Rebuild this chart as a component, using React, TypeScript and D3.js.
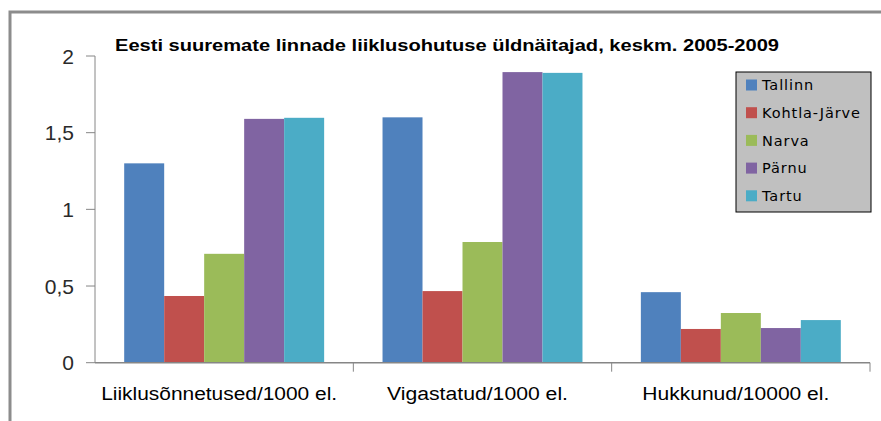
import React from 'react'
import * as d3 from 'd3'

const width = 881
const height = 421

const categories = ['Liiklusõnnetused/1000 el.', 'Vigastatud/1000 el.', 'Hukkunud/10000 el.']
const labelWidths = [236, 181, 187]
const cities = ['Tallinn', 'Kohtla-Järve', 'Narva', 'Pärnu', 'Tartu']
const colors = ['#4f81bd', '#c0504d', '#9bbb59', '#8064a2', '#4bacc6']
const tallinn = [1.3, 1.6, 0.46]
const kohtlaJarve = [0.435, 0.467, 0.22]
const narva = [0.71, 0.787, 0.324]
const parnu = [1.59, 1.895, 0.226]
const tartu = [1.597, 1.89, 0.278]
const yTicks = [0, 0.5, 1, 1.5, 2]
const tickLabels = ['0', '0,5', '1', '1,5', '2']
const title = 'Eesti suuremate linnade liiklusohutuse üldnäitajad, keskm. 2005-2009'

const series = [tallinn, kohtlaJarve, narva, parnu, tartu]

const x0 = d3.scaleBand<string>().domain(categories).range([95, 870])
const x1 = d3.scaleBand<string>().domain(cities).range([0, x0.bandwidth()]).paddingOuter(0.73).paddingInner(0)
const y = d3.scaleLinear().domain([0, 2]).range([362.7, 56])

function App() {
  const font = '"Liberation Sans", "Open Sans", sans-serif'
  return (
    <svg width={width} height={height} style={{ position: 'absolute', left: 0, top: 0 }}>
      <rect x={0} y={0} width={width} height={height} fill="#fff" />
      {/* outer frame, cropped at right and bottom */}
      <path d={`M10,${height} V12 H${width}`} fill="none" stroke="#8c8c8c" strokeWidth={3} />

      <text x={447} y={51} textAnchor="middle" fontFamily={font} fontWeight="bold" fontSize={16}
        textLength={664} lengthAdjust="spacingAndGlyphs" fill="#000">{title}</text>

      {/* y axis */}
      <line x1={95} x2={95} y1={y(2)} y2={y(0)} stroke="#868686" />
      {yTicks.map((t, i) => (
        <g key={t}>
          <line x1={86} x2={95} y1={y(t)} y2={y(t)} stroke="#868686" />
          <text x={74} y={y(t)} dy="0.36em" textAnchor="end" fontFamily={font} fontSize={21} fill="#2a2a2a">{tickLabels[i]}</text>
        </g>
      ))}

      {/* bars */}
      {categories.map((c, ci) => (
        <g key={c} transform={`translate(${x0(c)},0)`}>
          {cities.map((city, si) => (
            <rect key={city} x={x1(city)} width={x1.bandwidth()} y={y(series[si][ci])}
              height={y(0) - y(series[si][ci])} fill={colors[si]} />
          ))}
        </g>
      ))}

      {/* x axis */}
      <line x1={95} x2={870} y1={y(0)} y2={y(0)} stroke="#868686" strokeWidth={1.5} />
      {categories.map((c) => (
        <line key={'t' + c} x1={(x0(c) as number) + x0.bandwidth()} x2={(x0(c) as number) + x0.bandwidth()}
          y1={y(0)} y2={y(0) + 9} stroke="#868686" />
      ))}
      {categories.map((c, i) => (
        <text key={'l' + c} x={(x0(c) as number) + x0.bandwidth() / 2 - 5} y={400} textAnchor="middle"
          fontFamily={font} fontSize={18} textLength={labelWidths[i]} lengthAdjust="spacingAndGlyphs"
          fill="#000">{c}</text>
      ))}

      {/* legend */}
      <rect x={736} y={72} width={135} height={140} fill="#c0c0c0" stroke="#000" strokeWidth={1} />
      {cities.map((city, i) => (
        <g key={'lg' + city} transform={`translate(746,${85 + i * 27.7})`}>
          <rect x={0} y={-5.5} width={11} height={11} fill={colors[i]} />
          <text x={16} y={0} dy="0.36em" fontFamily='"DejaVu Sans", sans-serif' fontSize={14.5} fill="#000"
            letterSpacing={0.9}>{city}</text>
        </g>
      ))}
    </svg>
  )
}

export default App
